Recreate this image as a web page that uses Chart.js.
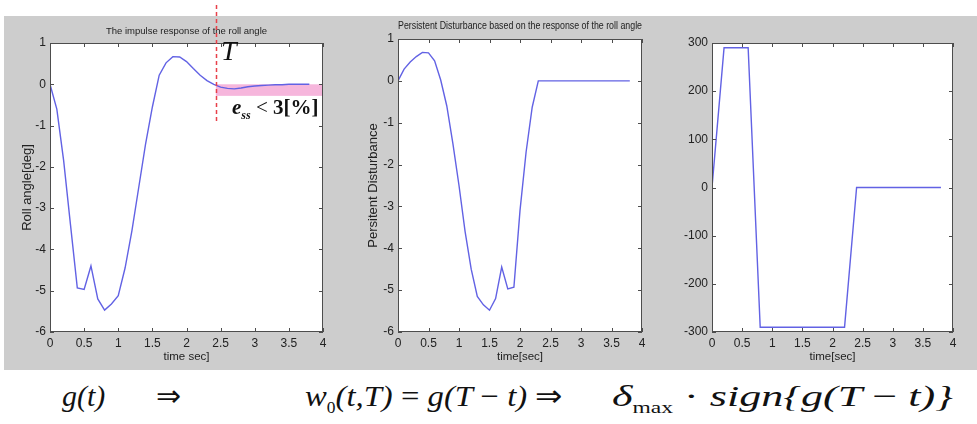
<!DOCTYPE html>
<html>
<head>
<meta charset="utf-8">
<script src="https://cdn.jsdelivr.net/npm/chart.js@4.4.1/dist/chart.umd.min.js"></script>
<style>
  html, body { margin: 0; padding: 0; background: #fff; width: 977px; height: 424px; overflow: hidden; position: relative; }
  #gray { position: absolute; left: 4px; top: 16px; width: 973px; height: 354px; background: #cdcdcd; }
  canvas { position: absolute; top: 0; }
  #c1 { left: 4px; }
  #c2 { left: 340px; }
  #c3 { left: 660px; }
  .serif { position: absolute; font-family: "Liberation Serif", "Times New Roman", serif; white-space: nowrap; line-height: 1; color: #111; }
  .serif sub { font-style: normal; }
  #markT { left: 221px; top: 37px; font-size: 28px; font-style: italic; }
  #markE { left: 232px; top: 97px; font-size: 21px; font-weight: bold; }
  #markE sub { font-size: 12px; font-style: italic; }
  .eq { top: 381px; font-size: 30px; font-style: italic; transform-origin: left center; }
  .eq sub { font-size: 16px; }
  .up { font-style: normal; }
</style>
</head>
<body>
<div id="gray"></div>
<canvas id="c1" width="336" height="370"></canvas>
<canvas id="c2" width="320" height="370"></canvas>
<canvas id="c3" width="317" height="370"></canvas>

<div class="serif" id="markT">T</div>
<div class="serif" id="markE"><i>e</i><sub>ss</sub> <span style="font-weight:normal">&lt;</span> 3[%]</div>

<div class="serif eq" style="left:62px">g(t)</div>
<div class="serif eq up" style="left:156px">&rArr;</div>
<div class="serif eq" style="left:305px; transform:scaleX(1.09)">w<sub>0</sub>(t,T) <span class="up">=</span> g(T <span class="up">&minus;</span> t) <span class="up">&rArr;</span></div>
<div class="serif eq" style="left:612px; transform:scaleX(1.47)">&delta;<sub>max</sub> <span class="up">&middot;</span> sign{g(T <span class="up">&minus;</span> t)}</div>

<script>
// impulse response g(t), sampled every 0.1 s
const times1 = [0, 0.1, 0.2, 0.3, 0.4, 0.5, 0.6, 0.7, 0.8, 0.9, 1.0, 1.1, 1.2, 1.3, 1.4, 1.5, 1.6, 1.7, 1.8, 1.9,
                2.0, 2.1, 2.2, 2.3, 2.4, 2.5, 2.6, 2.7, 2.8, 2.9, 3.0, 3.1, 3.2, 3.3, 3.4, 3.5, 3.6, 3.7, 3.8];
const rollAngle = [0, -0.6, -1.85, -3.4, -4.93, -4.97, -4.4, -5.2, -5.47, -5.32, -5.12, -4.45, -3.55, -2.5, -1.45,
                   -0.55, 0.22, 0.52, 0.67, 0.66, 0.55, 0.38, 0.22, 0.09, 0.0, -0.07, -0.1, -0.11, -0.09, -0.06,
                   -0.04, -0.03, -0.02, -0.01, -0.01, 0, 0, 0, 0];

// w0(t,T) = g(T - t)
const times2 = times1;
const disturbance = [0, 0.28, 0.45, 0.58, 0.68, 0.67, 0.48, 0.02, -0.6, -1.5, -2.5, -3.6, -4.5, -5.15, -5.35,
                     -5.48, -5.2, -4.45, -4.97, -4.93, -3.1, -1.7, -0.63, 0, 0, 0, 0, 0, 0, 0,
                     0, 0, 0, 0, 0, 0, 0, 0, 0];

// delta_max * sign{g(T - t)}, sampled every 0.2 s
const times3 = [0, 0.2, 0.4, 0.6, 0.8, 1.0, 1.2, 1.4, 1.6, 1.8, 2.0, 2.2, 2.4, 2.6, 2.8, 3.0, 3.2, 3.4, 3.6, 3.8];
const signInput = [0, 290, 290, 290, -290, -290, -290, -290, -290, -290, -290, -290, 0, 0, 0, 0, 0, 0, 0, 0];

const T_MARK = 2.43;
const ESS_BAND = [-0.28, 0];

const LINE_COLOR = '#6262e4';
const SANS = '"Liberation Sans", Arial, sans-serif';

function toPoints(xs, ys) {
    return xs.map((x, i) => ({ x: x, y: ys[i] }));
}

// white plot box, dark frame and inward tick marks like matlab axes
const boxAxes = {
    id: 'boxAxes',
    beforeDraw(chart) {
        const { ctx, chartArea: a } = chart;
        ctx.save();
        ctx.fillStyle = '#fff';
        ctx.fillRect(a.left, a.top, a.right - a.left, a.bottom - a.top);
        ctx.restore();
    },
    afterDraw(chart) {
        const { ctx, chartArea: a, scales } = chart;
        ctx.save();
        ctx.strokeStyle = '#4d4d4d';
        ctx.lineWidth = 1;
        ctx.strokeRect(Math.round(a.left) + 0.5, Math.round(a.top) + 0.5,
            Math.round(a.right - a.left) - 1, Math.round(a.bottom - a.top) - 1);
        ctx.beginPath();
        scales.x.ticks.forEach(t => {
            const px = Math.round(scales.x.getPixelForValue(t.value)) + 0.5;
            ctx.moveTo(px, a.bottom); ctx.lineTo(px, a.bottom - 4);
            ctx.moveTo(px, a.top); ctx.lineTo(px, a.top + 4);
        });
        scales.y.ticks.forEach(t => {
            const py = Math.round(scales.y.getPixelForValue(t.value)) + 0.5;
            ctx.moveTo(a.left, py); ctx.lineTo(a.left + 4, py);
            ctx.moveTo(a.right, py); ctx.lineTo(a.right - 4, py);
        });
        ctx.stroke();
        ctx.restore();
    }
};

// steady state band and the T marker on the first plot
const settleMarks = {
    id: 'settleMarks',
    beforeDatasetsDraw(chart) {
        const { ctx, chartArea: a, scales } = chart;
        const x0 = scales.x.getPixelForValue(T_MARK);
        const yTop = scales.y.getPixelForValue(ESS_BAND[1]);
        const yBot = scales.y.getPixelForValue(ESS_BAND[0]);
        ctx.save();
        ctx.fillStyle = '#f6b6dc';
        ctx.fillRect(x0, yTop, a.right - x0, yBot - yTop);
        ctx.restore();
    },
    afterDraw(chart) {
        const { ctx, scales } = chart;
        const x0 = Math.round(scales.x.getPixelForValue(T_MARK)) + 0.5;
        ctx.save();
        ctx.strokeStyle = '#e8404a';
        ctx.lineWidth = 1.5;
        ctx.setLineDash([4, 3]);
        ctx.beginPath();
        ctx.moveTo(x0, 5);
        ctx.lineTo(x0, scales.y.getPixelForValue(-0.95));
        ctx.stroke();
        ctx.restore();
    }
};

function makeChart(id, cfg) {
    const yTitle = cfg.yTitle
        ? { display: true, text: cfg.yTitle, color: '#222', font: { family: SANS, size: 13 }, padding: { top: cfg.yTitlePad, bottom: 0 } }
        : { display: false };
    const titleLine = cfg.titleSize * 1.2;
    return new Chart(document.getElementById(id), {
        type: 'line',
        data: {
            datasets: [{
                data: cfg.points,
                borderColor: LINE_COLOR,
                borderWidth: 1.4,
                pointRadius: 0,
                tension: 0,
                fill: false,
            }]
        },
        options: {
            responsive: false,
            animation: false,
            layout: { padding: { top: cfg.title ? 0 : cfg.top, right: cfg.right, left: 0, bottom: 0 } },
            plugins: {
                legend: { display: false },
                tooltip: { enabled: false },
                title: cfg.title ? {
                    display: true,
                    text: cfg.title,
                    fullSize: false,
                    color: '#222',
                    font: { family: SANS, size: cfg.titleSize, weight: 'normal', lineHeight: 1.2 },
                    padding: { top: cfg.titleTop, bottom: cfg.top - cfg.titleTop - titleLine },
                } : { display: false },
            },
            scales: {
                x: {
                    type: 'linear',
                    min: 0,
                    max: 4,
                    grid: { display: false, drawTicks: false },
                    border: { display: false },
                    ticks: { stepSize: 0.5, padding: 4, color: '#222', font: { family: SANS, size: 12 }, callback: v => String(v) },
                    title: { display: true, text: cfg.xTitle, color: '#222', font: { family: SANS, size: 11.5 }, padding: { top: 0, bottom: 6 } },
                    afterFit(scale) { scale.height = 38; },
                },
                y: {
                    min: cfg.yMin,
                    max: cfg.yMax,
                    grid: { display: false, drawTicks: false },
                    border: { display: false },
                    ticks: { stepSize: cfg.yStep, padding: 4, color: '#222', font: { family: SANS, size: 12 }, callback: v => String(v) },
                    title: yTitle,
                    afterFit(scale) { scale.width = cfg.yWidth; },
                }
            }
        },
        plugins: cfg.extra ? [boxAxes, cfg.extra] : [boxAxes],
    });
}

makeChart('c1', {
    points: toPoints(times1, rollAngle),
    title: 'The impulse response of the roll angle',
    titleSize: 9.5, titleTop: 26, top: 43, right: 17,
    xTitle: 'time sec]',
    yTitle: 'Roll angle[deg]', yTitlePad: 16,
    yMin: -6, yMax: 1, yStep: 1, yWidth: 46,
    extra: settleMarks,
});

makeChart('c2', {
    points: toPoints(times2, disturbance),
    title: 'Persistent Disturbance based on the response of the roll angle',
    titleSize: 10.3, titleTop: 20, top: 39, right: 18,
    xTitle: 'time[sec]',
    yTitle: 'Persitent Disturbance', yTitlePad: 26,
    yMin: -6, yMax: 1, yStep: 1, yWidth: 58,
});

makeChart('c3', {
    points: toPoints(times3, signInput),
    title: null,
    titleSize: 0, top: 43, right: 24,
    xTitle: 'time[sec]',
    yTitle: null,
    yMin: -300, yMax: 300, yStep: 100, yWidth: 52,
});
</script>
</body>
</html>
